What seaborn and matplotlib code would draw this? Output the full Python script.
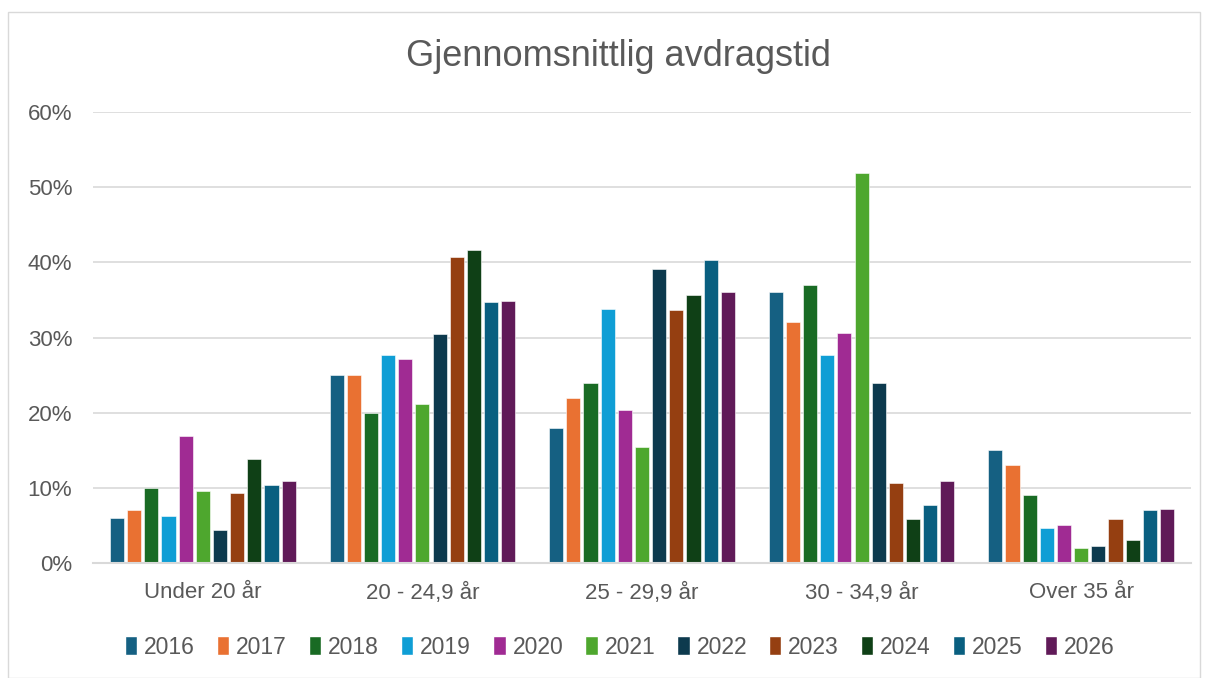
import pandas as pd
import seaborn as sns
import matplotlib.pyplot as plt
from matplotlib.patches import Rectangle, Patch
from matplotlib.ticker import PercentFormatter

# Data (percent)
categories = ["Under 20 år", "20 - 24,9 år", "25 - 29,9 år", "30 - 34,9 år", "Over 35 år"]
years = ["2016", "2017", "2018", "2019", "2020", "2021", "2022", "2023", "2024", "2025", "2026"]
v2016 = [6.0, 25.0, 18.0, 36.0, 15.0]
v2017 = [7.0, 25.0, 22.0, 32.0, 13.0]
v2018 = [10.0, 20.0, 24.0, 37.0, 9.0]
v2019 = [6.2, 27.7, 33.8, 27.7, 4.6]
v2020 = [16.9, 27.1, 20.3, 30.6, 5.1]
v2021 = [9.6, 21.2, 15.4, 51.9, 2.0]
v2022 = [4.4, 30.4, 39.1, 23.9, 2.2]
v2023 = [9.3, 40.7, 33.6, 10.7, 5.8]
v2024 = [13.9, 41.6, 35.6, 5.9, 3.0]
v2025 = [10.4, 34.7, 40.3, 7.7, 7.0]
v2026 = [10.9, 34.9, 36.1, 10.9, 7.2]
series = [v2016, v2017, v2018, v2019, v2020, v2021, v2022, v2023, v2024, v2025, v2026]

colors = ["#156082", "#E97132", "#196B24", "#0F9ED5", "#A02B93", "#4EA72E",
          "#0D3A4E", "#953F11", "#0F4016", "#095F80", "#601A58"]

rows = []
for year, vals in zip(years, series):
    for cat, v in zip(categories, vals):
        rows.append({"Kategori": cat, "År": year, "Andel": v})
df = pd.DataFrame(rows)

sns.set_style("white")
plt.rcParams["font.family"] = ["Liberation Sans", "DejaVu Sans"]

fig = plt.figure(figsize=(12.08, 6.78), dpi=100)
ax = fig.add_axes([93 / 1208, 1 - 563 / 678, 1098 / 1208, 451 / 678])

sns.barplot(data=df, x="Kategori", y="Andel", hue="År", order=categories,
            hue_order=years, palette=colors, saturation=1, width=0.86, gap=0.18,
            edgecolor="white", linewidth=0.4, legend=False, ax=ax)

ax.set_ylim(0, 60)
ax.set_xlim(-0.5, 4.5)
ax.set_yticks(range(0, 61, 10))
ax.yaxis.set_major_formatter(PercentFormatter(decimals=0))
ax.grid(axis="y", color="#D9D9D9", linewidth=1.2)
ax.set_axisbelow(True)
for side in ["left", "right", "top"]:
    ax.spines[side].set_visible(False)
ax.spines["bottom"].set_color("#D9D9D9")
ax.spines["bottom"].set_linewidth(1.5)
ax.tick_params(axis="both", length=0, labelsize=16, colors="#595959")
ax.tick_params(axis="x", pad=14)
ax.tick_params(axis="y", pad=15)
ax.set_xlabel("")
ax.set_ylabel("")

fig.text(0.512, 1 - 57 / 678, "Gjennomsnittlig avdragstid", ha="center", va="center",
         fontsize=26, color="#595959")

handles = [Patch(facecolor=c, label=y) for c, y in zip(colors, years)]
fig.legend(handles=handles, loc="center", bbox_to_anchor=(0.513, 1 - 647 / 678),
           ncol=11, frameon=False, fontsize=16.5, handlelength=0.55, handleheight=0.9,
           handletextpad=0.3, columnspacing=0.95, labelcolor="#595959")

# outer chart border
fig.patches.append(Rectangle((8 / 1208, 0), 1192 / 1208, 1 - 12 / 678,
                             transform=fig.transFigure, fill=False,
                             edgecolor="#D9D9D9", linewidth=1))

fig.savefig("out.png", dpi=100, facecolor="white")
